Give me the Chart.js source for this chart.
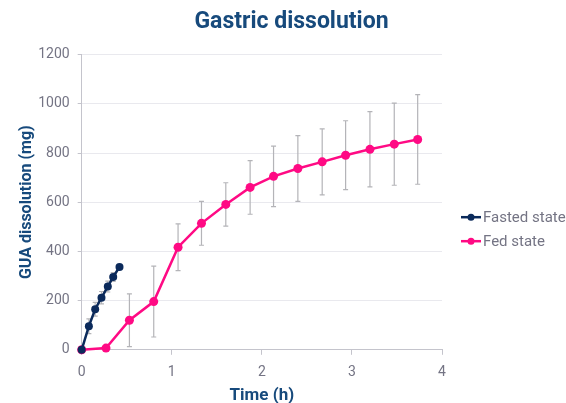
<!DOCTYPE html>
<html>
<head>
<meta charset="utf-8">
<script src="https://cdn.jsdelivr.net/npm/chart.js@4/dist/chart.umd.min.js"></script>
<style>
  html, body { margin: 0; padding: 0; background: #fff; }
  #wrap { width: 566px; height: 403px; }
</style>
</head>
<body>
<div id="wrap"><canvas id="chart" width="566" height="403"></canvas></div>
<script>
// values
const fastedTime = [0, 0.08, 0.15, 0.22, 0.29, 0.35, 0.42]
const fastedMg   = [0, 96, 165, 212, 257, 296, 337]
const fastedErr  = [0, 30, 28, 25, 22, 18, 0]

const fedTime = [0, 0.27, 0.53, 0.8, 1.07, 1.33, 1.6, 1.87, 2.13, 2.4, 2.67, 2.93, 3.2, 3.47, 3.73]
const fedMg   = [0, 7, 120, 196, 417, 514, 591, 660, 705, 737, 764, 791, 815, 836, 855]
const fedErr  = [0, 0, 107, 144, 95, 89, 88, 109, 123, 134, 134, 140, 153, 167, 182]

const seriesNames = ["Fasted state", "Fed state"]
const xTicks = [0, 1, 2, 3, 4]
const yTicks = [0, 200, 400, 600, 800, 1000, 1200]

const navy = "#0b2a5b"
const pink = "#ff0a84"
const titleBlue = "#174a7c"
const tickGrey = "#747484"

function toPoints(xs, ys) {
  return xs.map((x, i) => ({ x: x, y: ys[i] }))
}

// draws the +/- error bars from each dataset's errors array
const errorBars = {
  id: "errorBars",
  beforeDatasetsDraw(chart) {
    const ctx = chart.ctx
    const xs = chart.scales.x
    const ys = chart.scales.y
    ctx.save()
    ctx.strokeStyle = "#b4b4b8"
    ctx.lineWidth = 1.2
    chart.data.datasets.forEach(ds => {
      ds.data.forEach((p, i) => {
        const e = ds.errors[i]
        if (!e) return
        const px = xs.getPixelForValue(p.x)
        const top = ys.getPixelForValue(p.y + e)
        const bot = ys.getPixelForValue(p.y - e)
        ctx.beginPath()
        ctx.moveTo(px, top)
        ctx.lineTo(px, bot)
        ctx.moveTo(px - 2.5, top)
        ctx.lineTo(px + 2.5, top)
        ctx.moveTo(px - 2.5, bot)
        ctx.lineTo(px + 2.5, bot)
        ctx.stroke()
      })
    })
    ctx.restore()
  }
}

// legend on the right: line with a dot, then the label
const sideLegend = {
  id: "sideLegend",
  afterDraw(chart) {
    const ctx = chart.ctx
    const area = chart.chartArea
    const x0 = area.right + 19
    const y0 = (area.top + area.bottom) / 2 + 15
    ctx.save()
    ctx.font = "15px Roboto"
    ctx.textBaseline = "middle"
    chart.data.datasets.forEach((ds, i) => {
      const y = y0 + i * 24
      ctx.strokeStyle = ds.borderColor
      ctx.lineWidth = 2.5
      ctx.beginPath()
      ctx.moveTo(x0, y)
      ctx.lineTo(x0 + 20, y)
      ctx.stroke()
      ctx.fillStyle = ds.borderColor
      ctx.beginPath()
      ctx.arc(x0 + 10, y, 3.5, 0, Math.PI * 2)
      ctx.fill()
      ctx.fillStyle = tickGrey
      ctx.fillText(ds.label, x0 + 22, y + 1)
    })
    ctx.restore()
  }
}

new Chart(document.getElementById("chart"), {
  type: "line",
  data: {
    datasets: [
      {
        label: seriesNames[0],
        data: toPoints(fastedTime, fastedMg),
        errors: fastedErr,
        borderColor: navy,
        backgroundColor: navy,
        borderWidth: 2.5,
        pointRadius: 4,
        pointBorderWidth: 0,
        pointHoverRadius: 4,
        clip: false,
        fill: false
      },
      {
        label: seriesNames[1],
        data: toPoints(fedTime, fedMg),
        errors: fedErr,
        borderColor: pink,
        backgroundColor: pink,
        borderWidth: 2.5,
        pointRadius: 4.5,
        pointBorderWidth: 0,
        pointHoverRadius: 4.5,
        clip: false,
        fill: false
      }
    ]
  },
  plugins: [errorBars, sideLegend],
  options: {
    responsive: false,
    animation: false,
    layout: { padding: { top: 8, left: 17, right: 0, bottom: -3 } },
    plugins: {
      title: {
        display: true,
        text: "Gastric dissolution",
        color: titleBlue,
        font: { family: "Roboto", size: 23, weight: "bold" },
        padding: { top: 0, bottom: 19 }
      },
      legend: { display: false },
      tooltip: { enabled: false }
    },
    scales: {
      x: {
        type: "linear",
        min: 0,
        max: 4,
        afterBuildTicks(axis) { axis.ticks = xTicks.map(v => ({ value: v })) },
        grid: { display: true, drawOnChartArea: false, color: "#c4c4cc", tickLength: 5 },
        border: { color: "#c4c4cc" },
        ticks: { color: tickGrey, font: { family: "Roboto", size: 14 }, padding: 9.5 },
        title: {
          display: true,
          text: "Time (h)",
          color: titleBlue,
          font: { family: "Roboto", size: 17, weight: "bold" },
          padding: { top: -5, bottom: 0 }
        }
      },
      y: {
        min: 0,
        max: 1200,
        afterBuildTicks(axis) { axis.ticks = yTicks.map(v => ({ value: v })) },
        grid: { color: "#e9e9ee", tickLength: 4, tickColor: "#c4c4cc" },
        border: { color: "#c4c4cc" },
        ticks: {
          color: tickGrey,
          font: { family: "Roboto", size: 14 },
          padding: 8,
          callback: v => String(v)
        },
        title: {
          display: true,
          text: "GUA dissolution (mg)",
          color: titleBlue,
          font: { family: "Roboto", size: 16, weight: "bold" },
          padding: { top: 0, bottom: -6 }
        }
      },
      // empty axis that only reserves room for the legend on the right
      side: {
        position: "right",
        display: true,
        grid: { display: false },
        border: { display: false },
        ticks: { display: false },
        afterFit(axis) { axis.width = 124 }
      }
    }
  }
})
</script>
</body>
</html>
